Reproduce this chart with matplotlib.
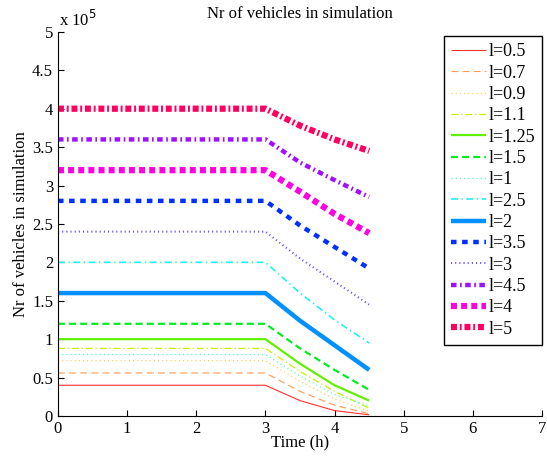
import matplotlib.pyplot as plt
from matplotlib.ticker import FuncFormatter

# data: number of vehicles vs time, one series per l value
time_h = [0, 3, 3.5, 4, 4.5]

labels = ['l=0.5', 'l=0.7', 'l=0.9', 'l=1.1', 'l=1.25', 'l=1.5', 'l=1',
          'l=2.5', 'l=2', 'l=3.5', 'l=3', 'l=4.5', 'l=4', 'l=5']

veh_05 = [40000, 40000, 20000, 7000, 1500]
veh_07 = [56000, 56000, 32000, 14000, 3000]
veh_09 = [72000, 72000, 45000, 22000, 6000]
veh_11 = [88000, 88000, 58000, 32000, 10000]
veh_125 = [100000, 100000, 68000, 40000, 20000]
veh_15 = [120000, 120000, 88000, 60000, 34000]
veh_1 = [80000, 80000, 52000, 28000, 13000]
veh_25 = [200000, 200000, 160000, 125000, 95000]
veh_2 = [160000, 160000, 124000, 92000, 60000]
veh_35 = [280000, 280000, 248000, 220000, 192000]
veh_3 = [240000, 240000, 205000, 175000, 145000]
veh_45 = [360000, 360000, 330000, 307000, 285000]
veh_4 = [320000, 320000, 292000, 263000, 238000]
veh_5 = [400000, 400000, 378000, 360000, 345000]

series = [veh_05, veh_07, veh_09, veh_11, veh_125, veh_15, veh_1,
          veh_25, veh_2, veh_35, veh_3, veh_45, veh_4, veh_5]

colors = ['#ff3030', '#ff9a50', '#ffd040', '#c8f000', '#60f000', '#00ee20',
          '#40ffc0', '#20f0f0', '#0090ff', '#0030ff', '#7050ff', '#a010ff',
          '#ff00e0', '#ff0060']
# dash patterns in points (None = solid)
dashes = [None, (5, 3), (0.8, 2.2), (5, 2, 1, 2), None, (5, 3), (0.8, 2.2),
          (5, 2.5, 1, 2.5), None, (4, 4), (0.8, 2.2), (4, 2.5, 1.2, 2.5),
          (4.3, 3), (4.3, 2, 1.4, 2)]
widths = [0.8, 0.8, 0.9, 0.9, 1.6, 1.6, 0.9, 1.2, 3.2, 3.2, 1.5, 3.2, 4.5, 4.5]

plt.rcParams['font.family'] = ['Liberation Serif', 'DejaVu Serif']
plt.rcParams['lines.scale_dashes'] = False

fig = plt.figure(figsize=(5.47, 4.62), dpi=100)
ax = fig.add_axes([0.106, 0.0996, 0.885, 0.8314])

for y, lab, c, d, lw in zip(series, labels, colors, dashes, widths):
    line, = ax.plot(time_h, y, color=c, linewidth=lw, label=lab,
                    solid_capstyle='butt', dash_capstyle='butt')
    if d is not None:
        line.set_dashes(d)

ax.set_xlim(0, 7)
ax.set_ylim(0, 500000)
ax.set_xticks(range(0, 8))
ax.set_yticks([i * 50000 for i in range(11)])
ax.yaxis.set_major_formatter(FuncFormatter(lambda v, p: '%g' % (v / 1e5)))
ax.tick_params(direction='in', labelsize=12, length=4)
ax.spines['top'].set_visible(False)
ax.spines['right'].set_visible(False)

ax.set_title('Nr of vehicles in simulation', fontsize=12, pad=10)
ax.set_xlabel('Time (h)', fontsize=12, labelpad=-2)
ax.set_ylabel('Nr of vehicles in simulation', fontsize=12, labelpad=2)
fig.text(0.108, 0.935, 'x 10$^5$', fontsize=12, ha='left', va='bottom')

leg = ax.legend(loc='upper left', bbox_to_anchor=(444 / 547, 426 / 462),
                bbox_transform=fig.transFigure, borderaxespad=0,
                fontsize=13, fancybox=False, framealpha=1,
                edgecolor='black', handlelength=1.9, handletextpad=0.15,
                labelspacing=0.24, borderpad=0.4)
leg.get_frame().set_linewidth(1.0)

fig.savefig('out.png', dpi=100)
